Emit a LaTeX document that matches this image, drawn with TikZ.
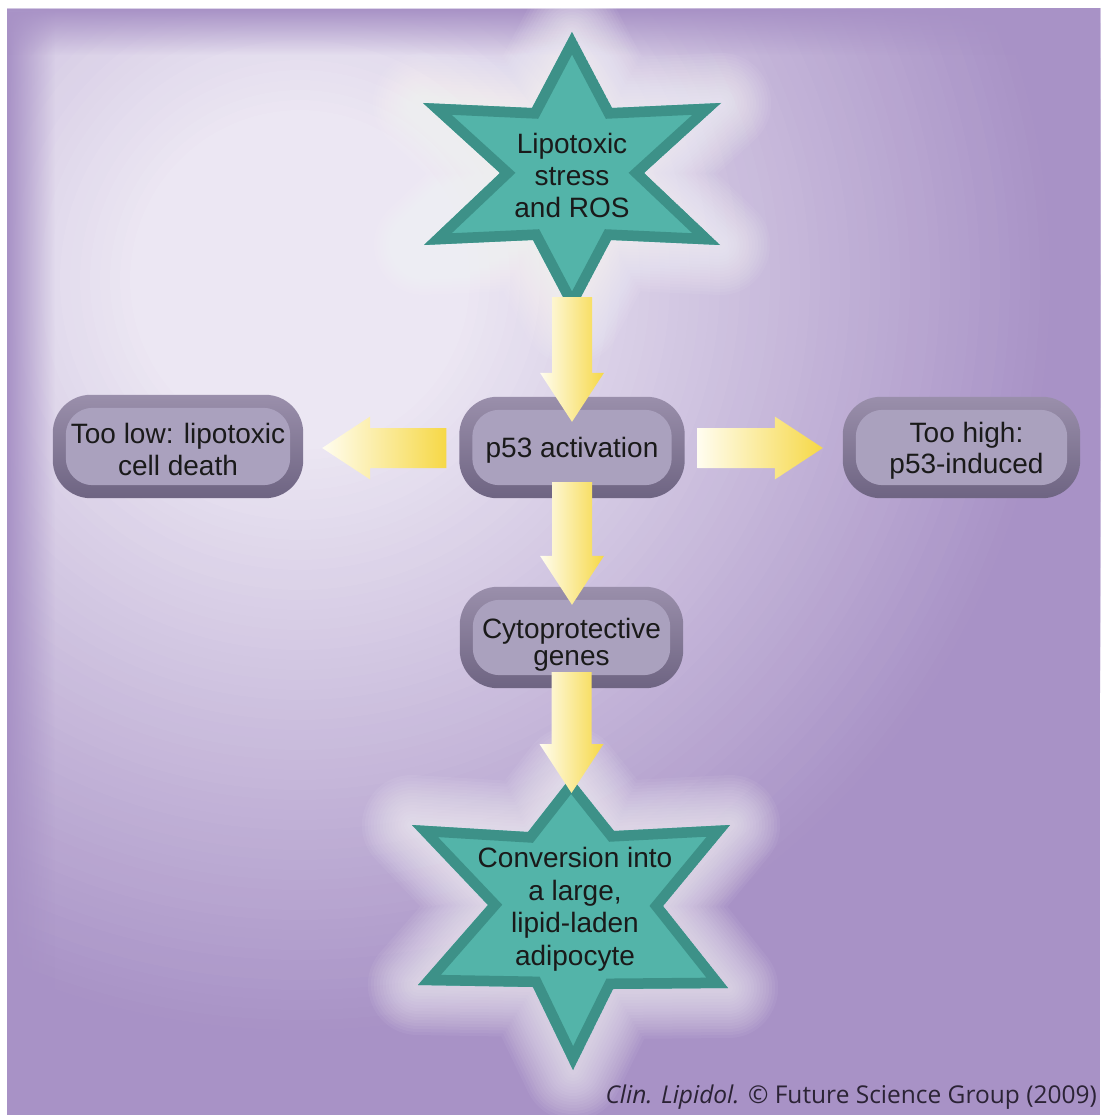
\documentclass[tikz,border=0pt]{standalone}
\usepackage{fontspec}
\setmainfont{Liberation Sans}
\newfontfamily\capfont{Open Sans}
\usetikzlibrary{calc,fadings}

\definecolor{bgA}{HTML}{ECE7F3}
\definecolor{bgC}{HTML}{A892C6}
\definecolor{starfill}{HTML}{53B4A9}
\definecolor{starbev}{HTML}{3D9188}
\definecolor{rimtop}{HTML}{9A8FAB}
\definecolor{rimbot}{HTML}{6E6482}
\definecolor{boxin}{HTML}{AAA1BE}
\definecolor{arrY}{HTML}{F6D846}
\definecolor{arrW}{HTML}{FFFDF0}
\definecolor{txt}{HTML}{1A1A1A}
\definecolor{captxt}{HTML}{2B2335}

\pgfdeclarelayer{back}
\pgfdeclarelayer{mid}
\pgfsetlayers{back,mid,main}

\def\starTop{(572,32) -- (612,108) -- (721,103) -- (644,173) -- (720,245) -- (611,240) -- (572,314) -- (533,240) -- (424,245) -- (500,173) -- (423,103) -- (532,108) -- cycle}
\def\starBot{(571,777) -- (614,831) -- (730,825) -- (663,906) -- (728,988) -- (613,989) -- (573,1070) -- (533,987) -- (418,985) -- (488,905) -- (412,825) -- (528,832) -- cycle}

\newcommand\hexstar[1]{%
  \foreach \w in {100,94,...,10}{\draw[white, opacity=0.055, line width=\w pt, line join=round] #1;}
  \begin{scope}\clip #1; \fill[starfill] #1; \draw[starbev, line width=21pt, line join=miter, miter limit=20] #1;\end{scope}}

\newcommand\pillbox[1]{%
  \shade[top color=rimtop, bottom color=rimbot, rounded corners=38pt] (#1.south west) rectangle (#1.north east);
  \fill[boxin, rounded corners=27pt] ($(#1.south west)+(13,-13)$) rectangle ($(#1.north east)+(-13,13)$);}

\newcommand\vblock[2]{\path[arrowshade] let \p1=(#1), \p2=(#2) in
  (\x1-20pt,\y1) -- (\x1-20pt,\y2+49pt) -- (\x1-32pt,\y2+49pt) -- (\x1,\y2) -- (\x1+32pt,\y2+49pt) -- (\x1+20pt,\y2+49pt) -- (\x1+20pt,\y1) -- cycle;}

\newcommand\hblock[2]{\path[arrowshade] let \p1=(#1), \p2=(#2), \p3=($(#2)!48pt!(#1)$) in
  (\x1,\y1+20pt) -- (\x3,\y1+20pt) -- (\x3,\y1+31.5pt) -- (\x2,\y1) -- (\x3,\y1-31.5pt) -- (\x3,\y1-20pt) -- (\x1,\y1-20pt) -- cycle;}

\begin{document}
\begin{tikzpicture}[x=1pt,y=-1pt,
  boxnode/.style={inner sep=0pt, minimum width=225pt, minimum height=101pt, align=center, text=txt, text depth=0pt, font=\fontsize{28}{32}\selectfont},
  startext/.style={inner sep=0pt, align=center, text=txt, font=\fontsize{28}{32}\selectfont},
  arrowshade/.style={left color=arrW, right color=arrY}]
\useasboundingbox (0,0) rectangle (1100,1115);

% ---- nodes (text) ----
\node[startext] (stress) at (572,175) {Lipotoxic\\stress\\and ROS};
\node[boxnode, text height=19pt] (p53) at (572,447.5) {p53 activation};
\node[boxnode, minimum width=250pt, minimum height=103pt, text height=57pt] (low) at (178,446.5) {Too low: lipotoxic\\cell death};
\node[boxnode, minimum width=237pt, text height=51pt, font=\fontsize{28}{31}\selectfont] (high) at (961.5,447.5) {\hspace*{10pt}Too high:\\\hspace*{10pt}p53-induced};
\node[boxnode, minimum width=223pt, text height=55pt, font=\fontsize{28}{27}\selectfont] (cyto) at (571.5,637.5) {Cytoprotective\\genes};
\node[startext, font=\fontsize{28}{32.5}\selectfont] (conv) at (575,909) {Conversion into\\a large,\\lipid-laden\\adipocyte};
\node[anchor=base east, inner sep=0pt, text=captxt, font=\capfont\fontsize{24.5}{28}\selectfont] (cap) at (1097,1103) {\textit{Clin. Lipidol.} © Future Science Group (2009)};

% ---- connector end points ----
\coordinate (a1s) at ($(stress.center)+(0,122)$);
\coordinate (a1t) at ($(p53.north)+(0,25)$);
\coordinate (a2s) at ($(p53.south)+(0,-16)$);
\coordinate (a2t) at ($(cyto.north)+(0,18)$);
\coordinate (a3s) at ($(cyto.south)+(0,-16)$);
\coordinate (a3t) at ($(conv.center)+(0,-116)$);
\coordinate (a4s) at ($(p53.west)+(-13,0.5)$);
\coordinate (a4t) at ($(low.east)+(19,1.5)$);
\coordinate (a5s) at ($(p53.east)+(13,0.5)$);
\coordinate (a5t) at ($(high.west)+(-20,0.5)$);

\begin{pgfonlayer}{back}
  % background panel
  \begin{scope}
    \clip (7,9) rectangle (1100,1115);
    \fill[bgC] (7,9) rectangle (1100,1115);
    \foreach \rr in {900,890,...,10}{%
      \pgfmathtruncatemacro\mixp{max(0,min(100,(760-\rr)/5.9))}%
      \fill[bgA!\mixp!bgC] (300,280) circle (\rr pt);}
    \fill[bgC, path fading=east] (7,9) rectangle (55,1115);
    \fill[bgC, path fading=south] (7,9) rectangle (1100,55);
  \end{scope}
  % stars
  \hexstar{\starTop}
  \hexstar{\starBot}
  % boxes
  \pillbox{p53}
  \pillbox{low}
  \pillbox{high}
  \pillbox{cyto}
\end{pgfonlayer}

\begin{pgfonlayer}{mid}
  \vblock{a1s}{a1t}
  \vblock{a2s}{a2t}
  \vblock{a3s}{a3t}
  \hblock{a4s}{a4t}
  \hblock{a5s}{a5t}
\end{pgfonlayer}
\end{tikzpicture}
\end{document}
